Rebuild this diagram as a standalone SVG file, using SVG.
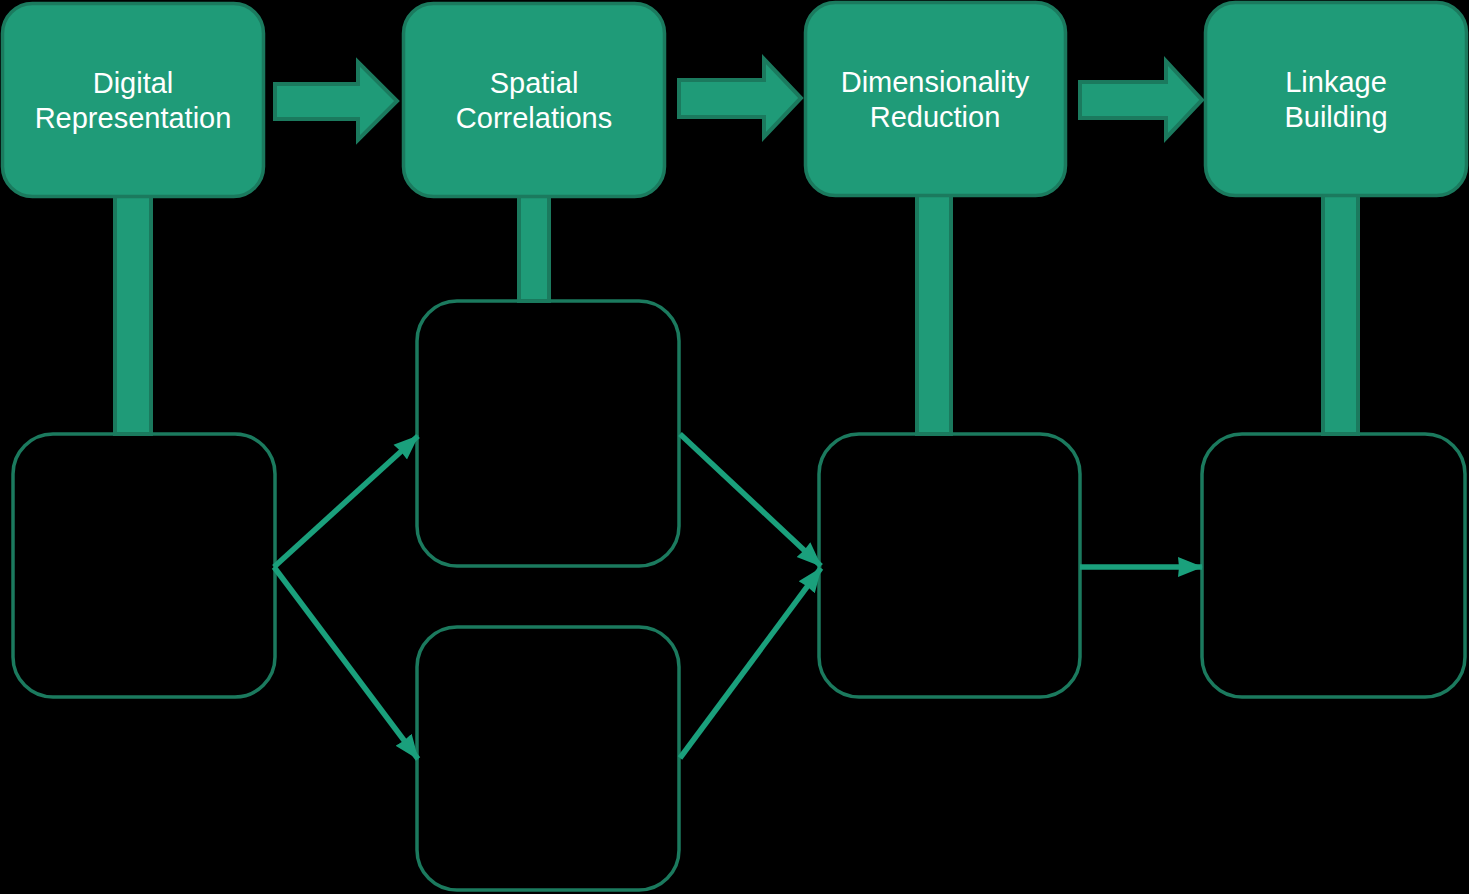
<svg xmlns="http://www.w3.org/2000/svg" width="1469" height="894" viewBox="0 0 1469 894">
<defs>
<style>
.top{fill:#1f9b78;stroke:#1b7a5e;stroke-width:3.5}
.bar{fill:#1f9b78;stroke:#1b7a5e;stroke-width:4}
.blk{fill:#1f9b78;stroke:#1b7a5e;stroke-width:4;stroke-linejoin:miter}
.box{fill:none;stroke:#1b7a5e;stroke-width:3.5}
.lbl{font-family:"Liberation Sans",Arial,sans-serif;font-size:29px;fill:#ffffff;text-anchor:middle}
.con{stroke:#1aa07c;stroke-width:5.5;fill:none}
</style>
<marker id="ah" markerUnits="userSpaceOnUse" markerWidth="26" markerHeight="26" viewBox="0 0 26 26" refX="24" refY="13" orient="auto">
<path d="M0,3 L25,13 L0,23 L1,13 Z" fill="#1aa07c"/>
</marker>
</defs>
<rect width="1469" height="894" fill="#000"/>
<g id="bars">
<rect class="bar" x="115" y="192" width="36" height="242"/>
<rect class="bar" x="519" y="192" width="30" height="109"/>
<rect class="bar" x="917" y="192" width="34" height="242"/>
<rect class="bar" x="1323" y="192" width="35" height="242"/>
</g>
<g id="node-digital">
<rect class="top" x="2.5" y="3.5" width="261" height="193" rx="30"/>
<text class="lbl" x="133" y="93">Digital</text>
<text class="lbl" x="133" y="128">Representation</text>
</g>
<g id="node-spatial">
<rect class="top" x="403.5" y="3.5" width="261" height="193" rx="30"/>
<text class="lbl" x="534" y="93">Spatial</text>
<text class="lbl" x="534" y="128">Correlations</text>
</g>
<g id="node-dimred">
<rect class="top" x="805.5" y="2.5" width="260" height="193" rx="30"/>
<text class="lbl" x="935" y="92">Dimensionality</text>
<text class="lbl" x="935" y="127">Reduction</text>
</g>
<g id="node-linkage">
<rect class="top" x="1205.5" y="2.5" width="261" height="193" rx="30"/>
<text class="lbl" x="1336" y="92">Linkage</text>
<text class="lbl" x="1336" y="127">Building</text>
</g>
<g id="block-arrows">
<path class="blk" d="M275,84 L358,84 L358,62 L397,101 L358,140 L358,119 L275,119 Z"/>
<path class="blk" d="M679,80 L764,80 L764,59 L801,98 L764,137 L764,117 L679,117 Z"/>
<path class="blk" d="M1080,82 L1166,82 L1166,61 L1202,100 L1166,138 L1166,118 L1080,118 Z"/>
</g>
<g id="box-a"><rect class="box" x="13" y="434" width="262" height="263" rx="40"/></g>
<g id="box-b"><rect class="box" x="417" y="301" width="262" height="265" rx="40"/></g>
<g id="box-c"><rect class="box" x="417" y="627" width="262" height="263" rx="40"/></g>
<g id="box-d"><rect class="box" x="819" y="434" width="261" height="263" rx="40"/></g>
<g id="box-e"><rect class="box" x="1202" y="434" width="263" height="263" rx="40"/></g>
<g id="connectors">
<line class="con" x1="274" y1="567" x2="418" y2="436" marker-end="url(#ah)"/>
<line class="con" x1="274" y1="567" x2="418" y2="759" marker-end="url(#ah)"/>
<line class="con" x1="680" y1="434" x2="821" y2="566" marker-end="url(#ah)"/>
<line class="con" x1="680" y1="758" x2="821" y2="568" marker-end="url(#ah)"/>
<line class="con" x1="1080" y1="567" x2="1202" y2="567" stroke-width="4.5" marker-end="url(#ah)"/>
</g>
</svg>
